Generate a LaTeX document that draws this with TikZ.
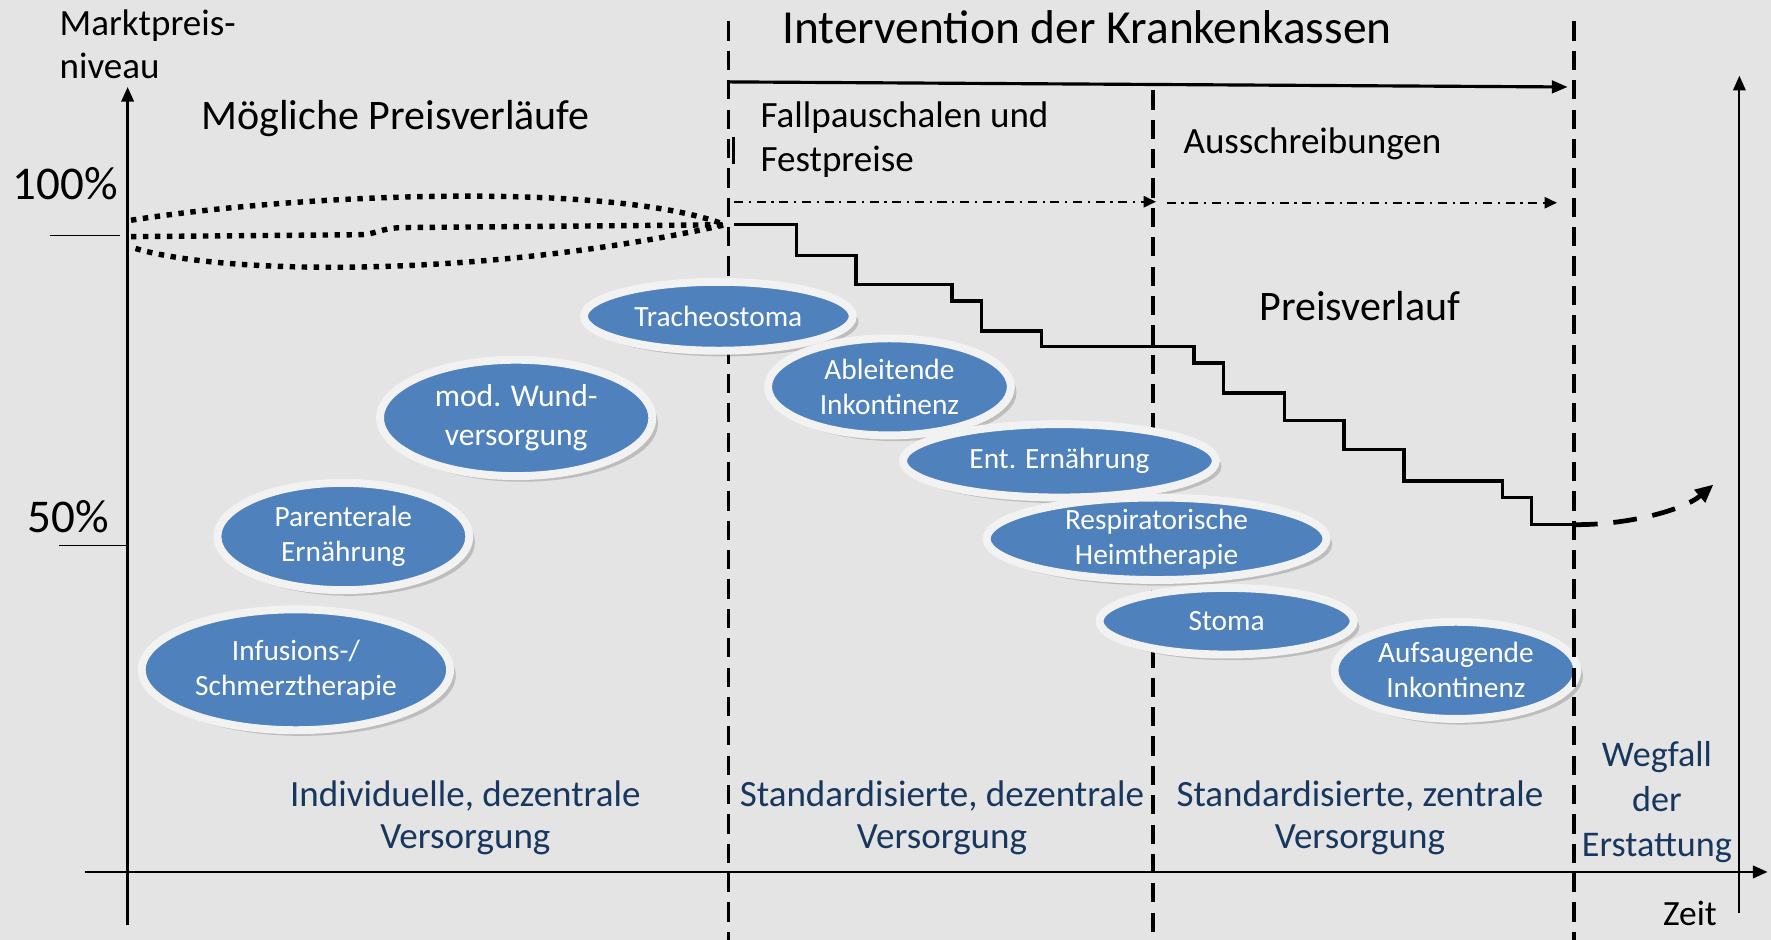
\documentclass[tikz,border=0pt]{standalone}
\usepackage{fontspec}
\setmainfont{Carlito}
\usetikzlibrary{shapes.geometric,arrows.meta,shadows}
\definecolor{bgc}{HTML}{E4E4E4}
\definecolor{blob}{HTML}{4F81BD}
\definecolor{rim}{HTML}{F2F2F2}
\definecolor{navy}{HTML}{17375E}
\newcommand\myfs[2]{\fontsize{#1}{#2}\selectfont}
\begin{document}
\begin{tikzpicture}[x=0.5pt,y=-0.5pt,
  axisline/.style={line width=1.1pt,-{Triangle[length=6.5pt,width=5.5pt]}},
  thinaxis/.style={line width=0.9pt,-{Triangle[length=6.5pt,width=5.5pt]}},
  tickline/.style={line width=0.75pt},
  dashv/.style={line width=1.6pt,dash pattern=on 8.5pt off 4.5pt},
  toparrow/.style={line width=1.4pt,-{Triangle[length=7pt,width=5.5pt]}},
  dotdash/.style={line width=0.9pt,dash pattern=on 4pt off 2.5pt on 1pt off 2.5pt,-{Triangle[length=5.5pt,width=5pt]}},
  dotc/.style={line width=2.4pt,dash pattern=on 2.4pt off 2.9pt},
  stair/.style={line width=1.5pt},
  dashcurve/.style={line width=2.1pt,dash pattern=on 10.5pt off 7pt,-{Triangle[length=8pt,width=7pt]}},
  ell/.style={ellipse,draw=rim,line width=3.5pt,fill=blob,text=white,inner xsep=0pt,inner ysep=-8pt,align=center,
    font=\myfs{13}{15.5},drop shadow={shadow xshift=2.5pt,shadow yshift=-2.5pt,opacity=0.25,fill=black!70}},
  lbl/.style={inner sep=0pt,anchor=base west},
  blbl/.style={inner sep=0pt,anchor=base,text=navy,font=\myfs{16.4}{20}},
]
\useasboundingbox (0,0) rectangle (1568,832);
\fill[bgc] (0,0) rectangle (1568,832);

% axes
\coordinate (yb) at (113,819); \coordinate (yt) at (113,77);
\coordinate (xl) at (75,772);  \coordinate (xr) at (1565,772);
\coordinate (rb) at (1540,808); \coordinate (rt) at (1540,67);
\draw[axisline] (yb) -- (yt);
\draw[axisline] (xl) -- (xr);
\draw[thinaxis] (rb) -- (rt);

% ticks
\coordinate (ta) at (44,208.5); \coordinate (tb) at (106.5,208.5);
\coordinate (fa5) at (52,483); \coordinate (fb5) at (112,483);
\draw[tickline] (ta) -- (tb);
\draw[tickline] (fa5) -- (fb5);

% vertical dashed separators
\coordinate (d1t) at (645,19);   \coordinate (d1b) at (645,832);
\coordinate (d2t) at (1021,80);  \coordinate (d2b) at (1021,832);
\coordinate (d3t) at (1393.5,19); \coordinate (d3b) at (1393.5,832);
\draw[dashv] (d1t) -- (d1b);
\draw[dashv] (d2t) -- (d2b);

% small mark
\coordinate (m1) at (649.5,121); \coordinate (m2) at (649.5,145);
\draw[line width=1.2pt] (m1) -- (m2);

% top arrows
\coordinate (ia) at (645,72.5); \coordinate (ib) at (1388,77);
\draw[toparrow] (ia) -- (ib);
\coordinate (fa) at (650,178.6); \coordinate (fb) at (1023.5,178.6);
\coordinate (aa) at (1033,179.5); \coordinate (ab) at (1378.5,179.5);
\draw[dotdash] (fa) -- (fb);
\draw[dotdash] (aa) -- (ab);

% dotted possible price curves
\coordinate (cv) at (642,199);
\draw[dotc] (116,195) .. controls (260,172) and (540,160) .. (cv);
\draw[dotc] (116,209.5) -- (318,207.8) .. controls (334,207.5) and (336,202) .. (356,201.5) -- (cv);
\draw[dotc] (120,220) .. controls (200,244) and (430,246) .. (cv);

% stair price curve
\coordinate (ss) at (650,199);
\coordinate (se) at (1393.5,464.5);
\coordinate (ae) at (1517,429);
\draw[stair] (ss) -| (705,226) -| (758,252) -| (843,266.5) -| (869,293) -| (922,306.5)
  -| (1057,321.5) -| (1083,348) -| (1137,372.5) -| (1190,398) -| (1243,426) -| (1330,440.5)
  -| (1356,464.5) -- (se);
\draw[dashcurve] (se) .. controls (1440,465) and (1490,452) .. (ae);

% ellipses left group
\node[ell,minimum width=120.5pt,minimum height=51.5pt,font=\myfs{14}{17}] (wund) at (457,370) {mod. Wund-\\versorgung};
\node[ell,minimum width=111.5pt,minimum height=47.5pt] (par) at (304,475) {Parenterale\\Ernährung};
\node[ell,minimum width=136.5pt,minimum height=53.5pt] (inf) at (262,593) {Infusions-/\\Schmerztherapie};

% ellipses right group
\node[ell,minimum width=119pt,minimum height=30.5pt] (tra) at (636,280) {Tracheostoma};
\node[ell,minimum width=107.5pt,minimum height=43pt] (abl) at (787.5,342.5) {Ableitende\\Inkontinenz};
\node[ell,minimum width=138.5pt,minimum height=32.5pt] (ent) at (938,408) {Ent. Ernährung};
\node[ell,minimum width=150.5pt,minimum height=36.5pt] (res) at (1024,477) {Respiratorische\\Heimtherapie};
\node[ell,minimum width=112.5pt,minimum height=29.5pt] (sto) at (1086,550) {Stoma};
\node[ell,minimum width=107.5pt,minimum height=43pt] (auf) at (1289,593.5) {Aufsaugende\\Inkontinenz};

\draw[dashv] (d3t) -- (d3b);

% labels
\node[lbl,font=\myfs{16.4}{19}] (mp1) at (52.4,31) {Marktpreis-};
\node[lbl,font=\myfs{16.4}{19}] (mp2) at (52.4,69.4) {niveau};
\node[lbl,font=\myfs{18.6}{22}] (mpv) at (178,115) {Mögliche Preisverläufe};
\node[lbl,font=\myfs{20.8}{24}] (p100) at (10.7,176.5) {100\%};
\node[lbl,font=\myfs{20.8}{24}] (p50) at (24,471.5) {50\%};
\node[lbl,font=\myfs{21}{25}] (int) at (692.3,38.4) {Intervention der Krankenkassen};
\node[lbl,font=\myfs{16.4}{19}] (fp1) at (673,113) {Fallpauschalen und};
\node[lbl,font=\myfs{16.4}{19}] (fp2) at (673,152) {Festpreise};
\node[lbl,font=\myfs{16.4}{19}] (aus) at (1047.5,135.7) {Ausschreibungen};
\node[lbl,font=\myfs{18.6}{22}] (pv) at (1114.7,284) {Preisverlauf};
\node[lbl,font=\myfs{15.7}{19}] (zeit) at (1472,819) {Zeit};

% bottom labels
\node[blbl] (b1a) at (412,713.6) {Individuelle, dezentrale};
\node[blbl] (b1b) at (412,751) {Versorgung};
\node[blbl] (b2a) at (834,713.6) {Standardisierte, dezentrale};
\node[blbl] (b2b) at (834,751) {Versorgung};
\node[blbl] (b3a) at (1204,713.6) {Standardisierte, zentrale};
\node[blbl] (b3b) at (1204,751) {Versorgung};
\node[blbl,font=\myfs{16}{20}] (w1) at (1467,678.8) {Wegfall};
\node[blbl,font=\myfs{16}{20}] (w2) at (1467,718.5) {der};
\node[blbl,font=\myfs{16}{20}] (w3) at (1467,758) {Erstattung};
\end{tikzpicture}
\end{document}
